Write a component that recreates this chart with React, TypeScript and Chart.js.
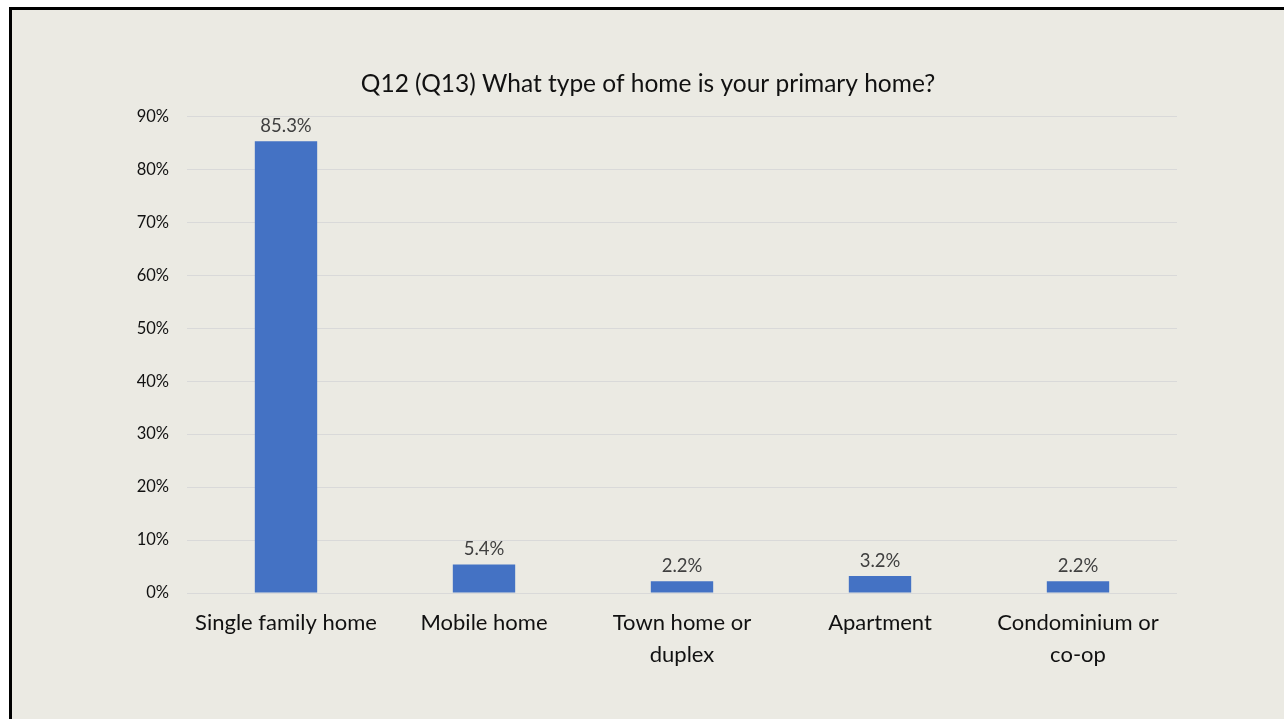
import React, { useEffect, useRef } from "react";
import { Chart, registerables } from "chart.js";

Chart.register(...registerables);

const categories: (string | string[])[] = [
  "Single family home",
  "Mobile home",
  ["Town home or", "duplex"],
  "Apartment",
  ["Condominium or", "co-op"],
];
const values: number[] = [85.3, 5.4, 2.2, 3.2, 2.2];
const yTicks: number[] = [0, 10, 20, 30, 40, 50, 60, 70, 80, 90];
const titleText = "Q12 (Q13) What type of home is your primary home?";

const FONT = "Lato, 'Open Sans', sans-serif";

const dataLabelPlugin = {
  id: "dataLabels",
  afterDatasetsDraw(chart: any) {
    const ctx = chart.ctx;
    const meta = chart.getDatasetMeta(0);
    ctx.save();
    ctx.font = `18.5px ${FONT}`;
    ctx.fillStyle = "#404040";
    ctx.textAlign = "center";
    ctx.textBaseline = "middle";
    meta.data.forEach((bar: any, i: number) => {
      ctx.fillText(values[i].toFixed(1) + "%", bar.x, bar.y - 15);
    });
    ctx.restore();
  },
};

export default function App() {
  const ref = useRef<HTMLCanvasElement>(null);
  useEffect(() => {
    if (!ref.current) return;
    const chart = new Chart(ref.current, {
      type: "bar",
      data: {
        labels: categories,
        datasets: [
          {
            data: values,
            backgroundColor: "#4472C4",
            barPercentage: 0.315,
            categoryPercentage: 1,
          },
        ],
      },
      options: {
        animation: false,
        responsive: false,
        devicePixelRatio: 1,
        layout: { padding: 0 },
        plugins: {
          legend: { display: false },
          tooltip: { enabled: false },
          title: {
            display: true,
            text: titleText,
            color: "#111111",
            font: { family: FONT, size: 24.5, weight: "normal" },
            padding: { top: 59, bottom: 18 },
          },
        },
        scales: {
          x: {
            grid: { display: false, drawTicks: false },
            border: { display: false },
            ticks: {
              color: "#111111",
              font: { family: FONT, size: 22, lineHeight: 1.45 },
              padding: 14,
              maxRotation: 0,
              autoSkip: false,
            },
            afterFit: (s: any) => {
              s.height = 126;
            },
          },
          y: {
            min: 0,
            max: 90,
            afterBuildTicks: (s: any) => {
              s.ticks = yTicks.map((v) => ({ value: v }));
            },
            grid: { color: "#D9D9D9", drawTicks: false, lineWidth: 1 },
            border: { display: false },
            ticks: {
              color: "#111111",
              font: { family: FONT, size: 16.5 },
              padding: 18,
              callback: (v: any) => v + "%",
            },
            afterFit: (s: any) => {
              s.width = 175;
            },
          },
          yRight: {
            position: "right",
            min: 0,
            max: 90,
            grid: { display: false, drawTicks: false },
            border: { display: false },
            ticks: { display: false },
            afterFit: (s: any) => {
              s.width = 107;
            },
          },
        },
      },
      plugins: [dataLabelPlugin],
    });
    return () => chart.destroy();
  }, []);

  return (
    <div
      style={{
        position: "absolute",
        left: 9,
        top: 7,
        width: 1272,
        height: 709,
        borderTop: "3px solid #000",
        borderLeft: "3px solid #000",
        background: "#EBEAE3",
      }}
    >
      <canvas ref={ref} width={1272} height={709} style={{ display: "block" }} />
    </div>
  );
}
